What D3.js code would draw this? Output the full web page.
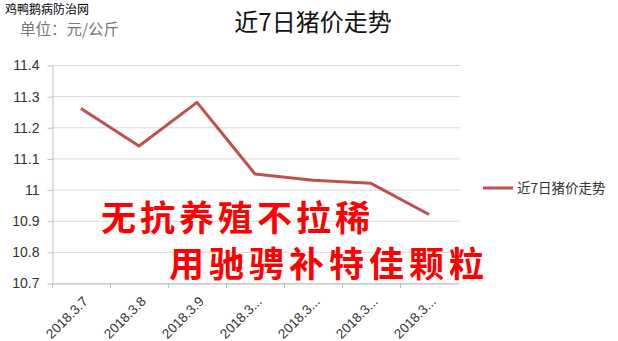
<!DOCTYPE html>
<html>
<head>
<meta charset="utf-8">
<script src="https://cdn.jsdelivr.net/npm/d3@7"></script>
<style>
body { margin: 0; background: #fff; }
svg { display: block; }
</style>
</head>
<body>
<svg></svg>
<script>
const svgWidth = 618;
const svgHeight = 341;
const dates = ["2018.3.7", "2018.3.8", "2018.3.9", "2018.3.10", "2018.3.11", "2018.3.12", "2018.3.13"];
const tickLabels = ["2018.3.7", "2018.3.8", "2018.3.9", "2018.3...", "2018.3...", "2018.3...", "2018.3..."];
const prices = [11.26, 11.14, 11.28, 11.05, 11.03, 11.02, 10.92];
const yTicks = [10.7, 10.8, 10.9, 11, 11.1, 11.2, 11.3, 11.4];
const seriesName = "近7日猪价走势";

const margin = {left: 52, right: 160, top: 65, bottom: 58};
const svg = d3.select("svg")
	.attr("width", svgWidth)
	.attr("height", svgHeight);

const xScale = d3.scaleBand()
	.domain(dates)
	.range([margin.left, 458]);
const yScale = d3.scaleLinear()
	.domain([10.7, 11.4])
	.range([283, margin.top]);

// gridlines
svg.append("g")
	.selectAll("line")
	.data(yTicks)
	.enter()
	.append("line")
	.attr("x1", margin.left)
	.attr("x2", 460)
	.attr("y1", d => yScale(d) + 0.5)
	.attr("y2", d => yScale(d) + 0.5)
	.attr("stroke", "#d9d9d9");

// y axis
let yAxis = d3.axisLeft(yScale)
	.tickValues(yTicks)
	.tickFormat(d => d3.format("")(+d.toFixed(1)))
	.tickSize(5)
	.tickSizeOuter(0);
let gy = svg.append("g")
	.attr("transform", `translate(${margin.left + 0.5}, 0.5)`)
	.call(yAxis);
gy.select(".domain").attr("stroke", "#bfbfbf");
gy.selectAll(".tick line").attr("stroke", "#bfbfbf");
gy.selectAll("text")
	.attr("font-family", "Liberation Sans, Arial, sans-serif")
	.attr("font-size", 14)
	.attr("fill", "#333")
	.attr("x", -13);

// x axis
let xAxis = d3.axisBottom(xScale)
	.tickFormat((d, i) => tickLabels[i])
	.tickSize(0)
	.tickSizeOuter(0);
let gx = svg.append("g")
	.attr("transform", `translate(0, ${yScale(10.7) + 0.5})`)
	.call(xAxis);
gx.select(".domain").attr("stroke", "#bfbfbf");
gx.selectAll("text")
	.attr("font-family", "Liberation Sans, Arial, sans-serif")
	.attr("font-size", 13.5)
	.attr("fill", "#333")
	.attr("text-anchor", "end")
	.attr("transform", "translate(2, 13) rotate(-45)")
	.attr("dy", "0.6em")
	.attr("y", 0);
// boundary tick marks
svg.append("g")
	.selectAll("line")
	.data(dates)
	.enter()
	.append("line")
	.attr("x1", d => xScale(d) + 0.5)
	.attr("x2", d => xScale(d) + 0.5)
	.attr("y1", yScale(10.7))
	.attr("y2", yScale(10.7) + 5)
	.attr("stroke", "#bfbfbf");

// price line
let line = d3.line()
	.x((d, i) => xScale(dates[i]) + xScale.bandwidth() / 2)
	.y(d => yScale(d));
svg.append("path")
	.datum(prices)
	.attr("d", line)
	.attr("fill", "none")
	.attr("stroke", "#c0504d")
	.attr("stroke-width", 3)
	.attr("stroke-linejoin", "round");

// legend
svg.append("line")
	.attr("x1", 483)
	.attr("x2", 513)
	.attr("y1", 188)
	.attr("y2", 188)
	.attr("stroke", "#c0504d")
	.attr("stroke-width", 3);
svg.append("text")
	.text(seriesName)
	.attr("x", 517)
	.attr("y", 193)
	.attr("font-family", "Noto Sans CJK SC, sans-serif")
	.attr("font-size", 13.5)
	.attr("fill", "#333");

// title
svg.append("text")
	.text(seriesName)
	.attr("x", 313)
	.attr("y", 31)
	.attr("text-anchor", "middle")
	.attr("font-family", "Noto Sans CJK SC, sans-serif")
	.attr("font-size", 24)
	.attr("fill", "#111");

// unit
svg.append("text")
	.text("单位：元/公斤")
	.attr("x", 20)
	.attr("y", 35)
	.attr("font-family", "Noto Sans CJK SC, sans-serif")
	.attr("font-size", 15.5)
	.attr("fill", "#777");

// watermark
svg.append("text")
	.text("鸡鸭鹅病防治网")
	.attr("x", 5)
	.attr("y", 14)
	.attr("font-family", "Noto Sans CJK SC, sans-serif")
	.attr("font-size", 12)
	.attr("fill", "#000");

// red overlay text
svg.append("text")
	.text("无抗养殖不拉稀")
	.attr("x", 101)
	.attr("y", 231)
	.attr("font-family", "Noto Sans CJK SC, sans-serif")
	.attr("font-weight", "bold")
	.attr("font-size", 35)
	.attr("letter-spacing", 4)
	.attr("fill", "#ff0000");
svg.append("text")
	.text("用驰骋补特佳颗粒")
	.attr("x", 169)
	.attr("y", 277)
	.attr("font-family", "Noto Sans CJK SC, sans-serif")
	.attr("font-weight", "bold")
	.attr("font-size", 35)
	.attr("letter-spacing", 5)
	.attr("fill", "#ff0000");
</script>
</body>
</html>
